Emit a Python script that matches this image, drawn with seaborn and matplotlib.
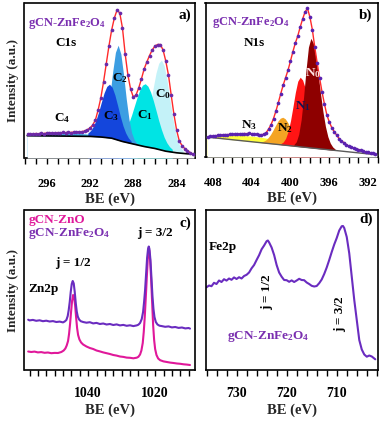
import numpy as np
import pandas as pd
import matplotlib
matplotlib.use('Agg')
import matplotlib.pyplot as plt
import seaborn as sns
from matplotlib.ticker import MultipleLocator

# ---------------- data: panel a (C1s) ----------------
A_env_x = [297.75, 297.5, 297.25, 297.0, 296.75, 296.5, 296.25, 296.0, 295.75, 295.5,
           295.25, 295.0, 294.75, 294.5, 294.25, 294.0, 293.75, 293.5, 293.25, 293.0,
           292.75, 292.5, 292.25, 292.0, 291.75, 291.5, 291.25, 291.0, 290.75, 290.5,
           290.25, 290.0, 289.75, 289.5, 289.25, 289.0, 288.75, 288.5, 288.25, 288.0,
           287.75, 287.5, 287.25, 287.0, 286.75, 286.5, 286.25, 286.0, 285.75, 285.5,
           285.25, 285.0, 284.75, 284.5, 284.25, 284.0, 283.75, 283.5, 283.25, 283.0,
           282.75, 282.5]
A_env_y = [23.6, 24.2, 23.9, 24.5, 24.2, 24.8, 24.4, 25.0, 24.7, 25.2,
           24.9, 25.4, 25.1, 25.6, 25.3, 25.8, 25.5, 26.0, 25.7, 26.2,
           26.4, 27.0, 28.2, 30.0, 33.0, 38.0, 48.0, 60.0, 76.0, 94.0,
           112.0, 128.0, 140.0, 148.0, 145.0, 130.0, 104.0, 83.0, 69.0, 61.0,
           63.0, 70.0, 79.0, 89.0, 96.0, 102.5, 108.0, 112.0, 113.5, 113.5,
           108.0, 97.0, 83.0, 63.0, 44.0, 28.0, 17.0, 12.5, 9.5, 7.5,
           5.5, 4.0]
A_bg_x = [297.8, 295.0, 292.0, 291.0, 290.0, 289.0, 288.0, 287.0, 286.0, 285.0, 284.0, 283.0, 282.4]
A_bg_y = [22.3, 22.0, 21.6, 21.0, 19.8, 16.5, 14.0, 11.5, 9.5, 6.8, 5.2, 4.2, 4.0]
A_c4_x = [297.8, 297.0, 296.0, 295.0, 294.0, 293.0, 292.0, 291.5, 291.0, 290.5]
A_c4_y = [23.3, 23.9, 24.3, 24.6, 24.8, 24.6, 23.8, 22.8, 21.6, 20.6]
A_c3_x = [292.2, 291.95, 291.7, 291.45, 291.2, 290.95, 290.7, 290.45, 290.2, 289.95,
          289.7, 289.45, 289.2, 288.95, 288.7, 288.45, 288.2]
A_c3_y = [24.9, 27.4, 31.4, 37.8, 46.2, 55.9, 65.1, 71.6, 73.8, 70.7,
          63.0, 52.6, 41.7, 32.2, 25.0, 20.0, 16.9]
A_c2_x = [291.15, 290.9, 290.65, 290.4, 290.15, 289.9, 289.65, 289.4, 289.15, 288.9,
          288.65, 288.4, 288.15, 287.9, 287.65]
A_c2_y = [22.4, 25.1, 31.4, 44.0, 63.7, 86.7, 105.7, 112.8, 104.1, 83.4,
          59.1, 38.7, 25.2, 17.9, 14.4]
A_c1_x = [289.4, 289.15, 288.9, 288.65, 288.4, 288.15, 287.9, 287.65, 287.4, 287.15,
          286.9, 286.65, 286.4, 286.15, 285.9, 285.65, 285.4, 285.15, 284.9, 284.65, 284.4]
A_c1_y = [20.7, 22.1, 24.8, 29.2, 35.5, 43.2, 52.0, 60.7, 68.1, 72.9,
          74.3, 71.8, 65.9, 57.4, 47.5, 37.4, 28.4, 20.8, 15.2, 11.3, 8.7]
A_c0_x = [287.4, 287.15, 286.9, 286.65, 286.4, 286.15, 285.9, 285.65, 285.4, 285.15,
          284.9, 284.65, 284.4, 284.15, 283.9, 283.65, 283.4]
A_c0_y = [18.2, 22.7, 30.3, 41.6, 55.4, 70.8, 85.0, 94.8, 97.9, 92.3,
          78.8, 60.9, 42.9, 27.9, 17.3, 10.8, 7.2]
A_labels = ["C$_4$", "C$_3$", "C$_2$", "C$_1$", "C$_0$"]
A_lab_x = [294.6, 290.05, 289.26, 286.97, 285.27]
A_lab_y = [40, 42, 80, 43, 64]

# ---------------- data: panel b (N1s) ----------------
B_env_x = [408.5, 408.25, 408.0, 407.75, 407.5, 407.25, 407.0, 406.75, 406.5, 406.25,
           406.0, 405.75, 405.5, 405.25, 405.0, 404.75, 404.5, 404.25, 404.0, 403.75,
           403.5, 403.25, 403.0, 402.75, 402.5, 402.25, 402.0, 401.75, 401.5, 401.25,
           401.0, 400.75, 400.5, 400.25, 400.0, 399.75, 399.5, 399.25, 399.0, 398.75,
           398.5, 398.25, 398.0, 397.75, 397.5, 397.25, 397.0, 396.75, 396.5, 396.25,
           396.0, 395.75, 395.5, 395.25, 395.0, 394.75, 394.5, 394.25, 394.0, 393.75,
           393.5, 393.25, 393.0, 392.75, 392.5, 392.25, 392.0, 391.75, 391.5, 391.25]
B_env_y = [20.0, 20.6, 21.0, 21.2, 21.6, 21.9, 22.0, 22.4, 22.3, 22.7,
           22.6, 23.0, 22.8, 23.3, 23.1, 23.5, 23.3, 23.7, 23.2, 23.0,
           22.6, 22.3, 22.2, 22.8, 24.5, 28.0, 32.5, 38.5, 46.0, 54.5,
           63.5, 72.0, 79.5, 87.0, 96.0, 105.5, 114.0, 121.0, 130.0, 138.0,
           145.0, 148.7, 140.0, 127.5, 110.0, 94.0, 79.0, 65.0, 53.0, 42.0,
           35.0, 29.5, 25.5, 22.0, 18.5, 16.0, 14.5, 12.5, 11.0, 9.8,
           9.0, 8.0, 7.5, 6.6, 5.8, 5.2, 4.6, 4.0, 3.6, 3.0]
B_bg_x = [408.6, 391.1]
B_bg_y = [19.9, 2.2]
B_n3_x = [408.6, 408.0, 407.0, 406.0, 405.0, 404.0, 403.0, 402.0, 401.0, 400.0, 399.0, 398.0, 397.0]
B_n3_y = [20.8, 21.5, 21.9, 21.9, 21.6, 20.9, 19.7, 18.0, 15.8, 13.4, 11.3, 9.5, 8.1]
B_n2_x = [403.05, 402.8, 402.55, 402.3, 402.05, 401.8, 401.55, 401.3, 401.05, 400.8,
          400.55, 400.3, 400.05, 399.8, 399.55, 399.3, 399.05, 398.8, 398.55]
B_n2_y = [15.05, 15.7, 17.0, 19.4, 22.6, 26.9, 31.5, 35.85, 38.8, 39.75,
          38.3, 34.8, 30.0, 24.8, 20.1, 16.3, 13.5, 11.7, 10.5]
B_n1_x = [401.0, 400.75, 400.5, 400.25, 400.0, 399.75, 399.5, 399.25, 399.0, 398.75,
          398.5, 398.25, 398.0, 397.75, 397.5, 397.25, 397.0, 396.75, 396.5, 396.25]
B_n1_y = [13.35, 15.0, 18.65, 25.5, 36.2, 50.1, 64.6, 75.8, 79.8, 77.0,
          69.3, 58.7, 46.7, 35.5, 26.0, 18.9, 14.0, 11.0, 9.1, 8.05]
B_n0_x = [399.65, 399.4, 399.15, 398.9, 398.65, 398.4, 398.15, 397.9, 397.65, 397.4,
          397.15, 396.9, 396.65, 396.4, 396.15, 395.9, 395.65, 395.4]
B_n0_y = [12.4, 15.3, 22.8, 37.3, 60.0, 87.1, 109.9, 118.7, 113.9, 100.8,
          82.7, 62.9, 45.0, 30.6, 20.4, 13.9, 10.05, 7.9]
B_labels = ["N$_3$", "N$_2$", "N$_1$", "N$_0$"]
B_lab_x = [404.28, 400.57, 398.68, 397.65]
B_lab_y = [32, 28.7, 51, 84.3]

# ---------------- data: panel c (Zn2p) ----------------
C_fe_x = [1057.9, 1057.5, 1056.5, 1055.5, 1054.5, 1053.5, 1052.5, 1051.5, 1050.5, 1049.5,
          1048.5, 1047.5, 1047.0, 1046.5, 1046.1, 1045.8, 1045.5, 1045.2, 1044.9, 1044.6,
          1044.3, 1044.0, 1043.7, 1043.4, 1043.1, 1042.7, 1042.2, 1041.5, 1040.5, 1039.5,
          1038.5, 1037.5, 1036.5, 1035.5, 1034.5, 1033.5, 1032.5, 1031.5, 1030.5, 1029.5,
          1028.5, 1027.5, 1026.5, 1025.5, 1025.0, 1024.5, 1024.0, 1023.6, 1023.3, 1023.0,
          1022.7, 1022.4, 1022.1, 1021.9, 1021.7, 1021.4, 1021.1, 1020.8, 1020.5, 1020.2,
          1019.8, 1019.3, 1018.7, 1018.0, 1017.0, 1016.0, 1015.0, 1014.0, 1013.0, 1012.0,
          1011.0, 1010.0, 1009.6]
C_fe_y = [50.3, 49.6, 50.1, 49.2, 49.7, 48.8, 49.3, 48.5, 48.9, 48.0,
          48.4, 47.6, 48.5, 50.0, 54.0, 60.0, 68.0, 78.0, 86.0, 89.0,
          86.5, 78.0, 67.0, 58.5, 53.5, 50.5, 48.8, 48.0, 47.3, 47.8,
          46.6, 47.1, 46.0, 46.5, 45.5, 46.0, 45.0, 45.6, 44.6, 45.1,
          44.2, 44.7, 43.9, 44.6, 45.3, 47.0, 51.0, 58.0, 68.0, 80.0,
          96.0, 112.0, 121.5, 123.5, 121.0, 110.0, 92.0, 74.0, 61.0, 53.0,
          48.0, 45.5, 44.3, 43.9, 43.2, 43.6, 42.6, 43.0, 42.1, 42.5,
          41.6, 42.0, 41.4]
C_zn_x = [1057.9, 1057.0, 1056.0, 1055.0, 1054.0, 1053.0, 1052.0, 1051.0, 1050.0, 1049.0,
          1048.0, 1047.3, 1046.8, 1046.4, 1046.0, 1045.7, 1045.4, 1045.1, 1044.8, 1044.5,
          1044.2, 1043.9, 1043.6, 1043.3, 1043.0, 1042.6, 1042.1, 1041.5, 1040.5, 1039.5,
          1038.5, 1037.5, 1036.5, 1035.5, 1034.5, 1033.5, 1032.5, 1031.5, 1030.5, 1029.5,
          1028.5, 1027.5, 1026.5, 1025.5, 1025.0, 1024.5, 1024.1, 1023.7, 1023.4, 1023.1,
          1022.8, 1022.5, 1022.2, 1021.95, 1021.75, 1021.5, 1021.2, 1020.9, 1020.6, 1020.3,
          1020.0, 1019.6, 1019.1, 1018.5, 1017.5, 1016.5, 1015.5, 1014.5, 1013.5, 1012.5,
          1011.5, 1010.5, 1009.6]
C_zn_y = [18.5, 18.0, 18.4, 17.6, 17.9, 17.2, 17.5, 16.8, 17.1, 17.0,
          18.0, 19.5, 21.5, 24.5, 29.0, 36.0, 46.0, 58.0, 69.0, 75.0,
          73.0, 65.0, 53.0, 42.0, 35.0, 30.5, 27.5, 25.5, 23.5, 22.0,
          21.0, 19.5, 18.6, 17.6, 16.8, 16.0, 15.0, 14.4, 13.5, 13.1,
          12.4, 12.2, 11.7, 12.3, 13.2, 15.5, 19.5, 27.0, 38.0, 53.0,
          72.0, 92.0, 111.0, 120.5, 119.5, 110.0, 91.0, 68.0, 45.0, 30.0,
          21.0, 15.0, 11.5, 9.8, 8.6, 8.0, 7.4, 7.0, 6.5, 6.2,
          5.7, 5.4, 5.0]

# ---------------- data: panel d (Fe2p) ----------------
D_x = [736.0, 735.5, 735.0, 734.5, 734.0, 733.5, 733.0, 732.5, 732.0, 731.5,
       731.0, 730.5, 730.0, 729.5, 729.0, 728.5, 728.0, 727.5, 727.0, 726.5,
       726.0, 725.5, 725.0, 724.5, 724.0, 723.75, 723.5, 723.0, 722.5, 722.0,
       721.5, 721.0, 720.5, 720.0, 719.5, 719.0, 718.5, 718.0, 717.5, 717.0,
       716.5, 716.0, 715.5, 715.0, 714.5, 714.0, 713.5, 713.0, 712.5, 712.0,
       711.5, 711.0, 710.5, 710.0, 709.5, 709.0, 708.75, 708.5, 708.0, 707.5,
       707.0, 706.5, 706.0, 705.5, 705.0, 704.5, 704.0, 703.5, 703.0, 702.5, 702.3]
D_y = [82.7, 84.5, 83.8, 87.2, 86.0, 89.5, 88.0, 90.8, 89.4, 91.5,
       90.2, 92.6, 91.0, 92.8, 91.5, 94.0, 95.2, 97.5, 101.7, 105.0,
       110.0, 114.8, 120.7, 124.5, 128.8, 129.5, 127.6, 122.5, 115.0, 105.0,
       97.5, 93.3, 90.0, 89.8, 88.2, 89.6, 88.0, 89.5, 91.2, 90.0,
       89.8, 87.5, 86.0, 84.2, 83.5, 84.0, 86.8, 90.5, 96.0, 102.5,
       110.0, 118.0, 125.5, 132.0, 139.5, 143.8, 144.0, 142.0, 133.0, 116.7,
       93.3, 70.0, 50.0, 30.0, 20.5, 15.5, 13.3, 14.5, 13.5, 11.5, 10.7]

# ---------------- style ----------------
sns.set_theme(style='ticks')
plt.rcParams['font.family'] = ['Liberation Serif', 'DejaVu Serif']
plt.rcParams['font.weight'] = 'bold'
plt.rcParams['axes.labelweight'] = 'bold'
plt.rcParams['mathtext.fontset'] = 'custom'
plt.rcParams['mathtext.rm'] = 'Liberation Serif:bold'
plt.rcParams['mathtext.it'] = 'Liberation Serif:italic:bold'
plt.rcParams['mathtext.bf'] = 'Liberation Serif:bold'
plt.rcParams['axes.edgecolor'] = 'black'
plt.rcParams['axes.linewidth'] = 1.2

PURPLE = '#6a2cc0'
PURPLE_T = '#7a2fb0'
MAGENTA = '#e0189a'
W, H = 385.0, 424.0

fig = plt.figure(figsize=(3.85, 4.24), dpi=100)

def box(l, t, r, b):
    return [l / W, (H - b) / H, (r - l) / W, (b - t) / H]

axA = fig.add_axes(box(24.5, 2.7, 195, 158))
axB = fig.add_axes(box(205.5, 2.7, 378.3, 157))
axC = fig.add_axes(box(24.5, 210, 195, 370))
axD = fig.add_axes(box(205.5, 210, 378.3, 370))

def style_axis(ax, xlim, ylim, major, minor, fs, pad):
    ax.set_xlim(*xlim)
    ax.set_ylim(*ylim)
    ax.set_yticks([])
    ax.xaxis.set_major_locator(MultipleLocator(major))
    ax.xaxis.set_minor_locator(MultipleLocator(minor))
    ax.tick_params(axis='x', which='both', direction='out', length=4.5, width=1.0,
                   colors='black', pad=pad)
    ax.tick_params(axis='x', which='major', labelsize=fs)
    for lab in ax.get_xticklabels():
        lab.set_fontweight('bold')
    for sp in ax.spines.values():
        sp.set_visible(True)
        sp.set_color('black')
        sp.set_linewidth(1.2)
    ax.set_facecolor('white')

# ---- panel a ----
ax = axA
comp_cols = ['#3cb4ec', '#c4f2f8', '#00e4e4', '#3c9ee2', '#1446dc']
comps = [(A_c4_x, A_c4_y), (A_c0_x, A_c0_y), (A_c1_x, A_c1_y), (A_c2_x, A_c2_y), (A_c3_x, A_c3_y)]
for i, ((cx, cy), col) in enumerate(zip(comps, comp_cols)):
    ax.fill_between(cx, 0, cy, color=col, lw=0, zorder=1 + i)
ax.fill_between(A_bg_x, 0, A_bg_y, color='white', lw=0, zorder=6)
sns.lineplot(x=A_bg_x, y=A_bg_y, ax=ax, color='black', lw=1.2, sort=False, zorder=7)
sns.lineplot(x=A_env_x, y=A_env_y, ax=ax, color='#ff2a2a', lw=1.0, sort=False, zorder=8)
sns.scatterplot(x=A_env_x, y=A_env_y, ax=ax, color='#6a2aa8', s=7, linewidth=0, zorder=9)
style_axis(ax, (298.05, 282.3), (0, 155.3), 4, 1, 9, 10)
ax.set_xlabel('BE (eV)', fontsize=10.5, labelpad=2)
ax.set_ylabel('Intensity (a.u.)', fontsize=9.5, labelpad=4)
for t, x, y in zip(A_labels, A_lab_x, A_lab_y):
    ax.text(x, y, t, ha='center', va='center', fontsize=9.5, color='black', zorder=10)
ax.text(0.02, 0.869, 'gCN-ZnFe$_2$O$_4$', transform=ax.transAxes, ha='left', va='center',
        fontsize=9, color=PURPLE_T, zorder=10)
ax.text(0.18, 0.74, 'C1s', transform=ax.transAxes, ha='left', va='center',
        fontsize=9.5, color='black', zorder=10)
ax.text(0.98, 0.92, 'a)', transform=ax.transAxes, ha='right', va='center',
        fontsize=11, color='black', zorder=10)

# ---- panel b ----
ax = axB
ncols = ['#ffff3c', '#f4a424', '#ff1414', '#8e0000']
ncomps = [(B_n3_x, B_n3_y), (B_n2_x, B_n2_y), (B_n1_x, B_n1_y), (B_n0_x, B_n0_y)]
for i, ((cx, cy), col) in enumerate(zip(ncomps, ncols)):
    ax.fill_between(cx, 0, cy, color=col, lw=0, zorder=1 + i)
ax.fill_between(B_bg_x, 0, B_bg_y, color='white', lw=0, zorder=6)
sns.lineplot(x=B_bg_x, y=B_bg_y, ax=ax, color='#5a5a5a', lw=1.0, sort=False, zorder=7)
sns.lineplot(x=B_env_x, y=B_env_y, ax=ax, color='#ff2a2a', lw=1.0, sort=False, zorder=8)
sns.scatterplot(x=B_env_x, y=B_env_y, ax=ax, color='#5a22b0', s=7, linewidth=0, zorder=9)
style_axis(ax, (408.76, 390.95), (0, 154.3), 4, 1, 9, 10)
ax.set_xlabel('BE (eV)', fontsize=10.5, labelpad=2)
ncolors_lab = ['black', 'black', '#141450', '#ffe0e0']
for t, x, y, c in zip(B_labels, B_lab_x, B_lab_y, ncolors_lab):
    ax.text(x, y, t, ha='center', va='center', fontsize=9.5, color=c, zorder=10)
ax.text(0.036, 0.87, 'gCN-ZnFe$_2$O$_4$', transform=ax.transAxes, ha='left', va='center',
        fontsize=9, color=PURPLE_T, zorder=10)
ax.text(0.219, 0.74, 'N1s', transform=ax.transAxes, ha='left', va='center',
        fontsize=9.5, color='black', zorder=10)
ax.text(0.963, 0.92, 'b)', transform=ax.transAxes, ha='right', va='center',
        fontsize=11, color='black', zorder=10)

# ---- panel c ----
ax = axC
sns.lineplot(x=C_zn_x, y=C_zn_y, ax=ax, color=MAGENTA, lw=1.5, sort=False)
sns.lineplot(x=C_fe_x, y=C_fe_y, ax=ax, color=PURPLE, lw=1.5, sort=False)
style_axis(ax, (1059.0, 1008.1), (0, 160), 20, 2.5, 10, 8)
ax.set_xlabel('BE (eV)', fontsize=10.5, labelpad=2)
ax.set_ylabel('Intensity (a.u.)', fontsize=9.5, labelpad=4)
ax.text(0.022, 0.9375, 'gCN-ZnO', transform=ax.transAxes, ha='left', va='center',
        fontsize=9.5, color=MAGENTA)
ax.text(0.022, 0.85, 'gCN-ZnFe$_2$O$_4$', transform=ax.transAxes, ha='left', va='center',
        fontsize=9.5, color=PURPLE_T)
ax.text(0.98, 0.917, 'c)', transform=ax.transAxes, ha='right', va='center',
        fontsize=11, color='black')
ax.text(0.763, 0.854, 'j = 3/2', transform=ax.transAxes, ha='center', va='center',
        fontsize=9.5, color='black')
ax.text(0.282, 0.667, 'j = 1/2', transform=ax.transAxes, ha='center', va='center',
        fontsize=9.5, color='black')
ax.text(0.022, 0.506, 'Zn2p', transform=ax.transAxes, ha='left', va='center',
        fontsize=9.5, color='black')

# ---- panel d ----
ax = axD
sns.lineplot(x=D_x, y=D_y, ax=ax, color=PURPLE, lw=1.5, sort=False)
style_axis(ax, (736.2, 701.7), (0, 160), 10, 2, 10, 8)
ax.set_xlabel('BE (eV)', fontsize=10.5, labelpad=2)
ax.text(0.016, 0.77, 'Fe2p', transform=ax.transAxes, ha='left', va='center',
        fontsize=9.5, color='black')
ax.text(0.97, 0.94, 'd)', transform=ax.transAxes, ha='right', va='center',
        fontsize=11, color='black')
ax.text(0.354, 0.486, 'j = 1/2', transform=ax.transAxes, ha='center', va='center',
        rotation=90, fontsize=9.5, color='black')
ax.text(0.78, 0.35, 'j = 3/2', transform=ax.transAxes, ha='center', va='center',
        rotation=90, fontsize=9.5, color='black')
ax.text(0.363, 0.21, 'gCN-ZnFe$_2$O$_4$', transform=ax.transAxes, ha='center', va='center',
        fontsize=9.5, color=PURPLE_T)

for a in (axA, axB, axC, axD):
    leg = a.get_legend()
    if leg is not None:
        leg.remove()

fig.savefig('out.png', dpi=100)
